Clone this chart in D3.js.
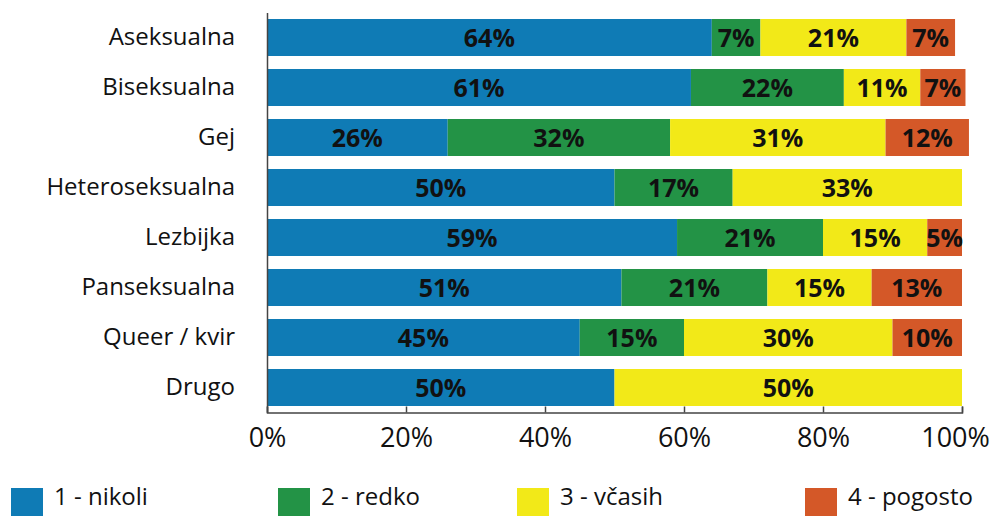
<!DOCTYPE html>
<html>
<head>
<meta charset="utf-8">
<script src="https://cdn.jsdelivr.net/npm/d3@7"></script>
<style>
  html, body { margin: 0; padding: 0; background: #fff; }
  svg { display: block; font-family: "Open Sans", sans-serif; }
</style>
</head>
<body>
<svg id="chart" width="992" height="516"></svg>
<script>
// categories and series (percent)
const categories = ["Aseksualna", "Biseksualna", "Gej", "Heteroseksualna", "Lezbijka", "Panseksualna", "Queer / kvir", "Drugo"];
const nikoli  = [64, 61, 26, 50, 59, 51, 45, 50];
const redko   = [7, 22, 32, 17, 21, 21, 15, 0];
const vcasih  = [21, 11, 31, 33, 15, 15, 30, 50];
const pogosto = [7, 6.5, 12, 0, 5, 13, 10, 0];

const seriesNames = ["1 - nikoli", "2 - redko", "3 - včasih", "4 - pogosto"];
const seriesColors = ["#0f7bb5", "#239346", "#f2e918", "#d45828"];
const xTicks = [0, 20, 40, 60, 80, 100];

// legend layout
const legendX = [11, 278, 517, 805];

const svg = d3.select("#chart");

const x = d3.scaleLinear().domain([0, 100]).range([267, 962]);
const y = d3.scaleBand().domain(categories).range([12.5, 412.5]).paddingInner(0.26).paddingOuter(0.13);
const color = d3.scaleOrdinal().domain(seriesNames).range(seriesColors);

// build table for stack
const keys = seriesNames;
const table = categories.map((c, i) => ({
  cat: c,
  [keys[0]]: nikoli[i],
  [keys[1]]: redko[i],
  [keys[2]]: vcasih[i],
  [keys[3]]: pogosto[i]
}));
const stacked = d3.stack().keys(keys)(table);

// bars
const layers = svg.append("g")
  .selectAll("g")
  .data(stacked)
  .join("g")
  .attr("fill", d => color(d.key));

layers.selectAll("rect")
  .data(d => d)
  .join("rect")
  .attr("x", d => x(d[0]))
  .attr("y", d => y(d.data.cat))
  .attr("width", d => x(d[1]) - x(d[0]))
  .attr("height", y.bandwidth());

// bar labels
layers.selectAll("text")
  .data(d => d.filter(s => s[1] - s[0] > 0))
  .join("text")
  .attr("x", d => (x(d[0]) + x(d[1])) / 2)
  .attr("y", d => y(d.data.cat) + y.bandwidth() / 2)
  .attr("dy", "0.36em")
  .attr("text-anchor", "middle")
  .attr("fill", "#111")
  .attr("font-size", "25px")
  .attr("font-weight", "700")
  .text(d => Math.round(d[1] - d[0]) + "%");

// bottom axis
const xAxis = svg.append("g")
  .attr("transform", "translate(0,412.5)")
  .call(d3.axisBottom(x).tickValues(xTicks).tickFormat(d => d + "%").tickSizeInner(-6).tickSizeOuter(-6).tickPadding(15));
xAxis.select(".domain").attr("stroke", "#444").attr("stroke-width", 1.5);
xAxis.selectAll(".tick line").attr("stroke", "#444").attr("stroke-width", 1.5);
xAxis.selectAll(".tick text")
  .attr("fill", "#111")
  .attr("font-size", "27px")
  .attr("font-family", "Open Sans, sans-serif");
// keep the last label inside the picture
xAxis.selectAll(".tick text").filter(d => d === 100).attr("dx", "-7");

// left axis
const yAxis = svg.append("g")
  .attr("transform", "translate(267,0)")
  .call(d3.axisLeft(y).tickSize(0).tickPadding(32));
yAxis.select(".domain").attr("stroke", "#444").attr("stroke-width", 1.5);
yAxis.selectAll(".tick text")
  .attr("fill", "#111")
  .attr("font-size", "24px")
  .attr("font-family", "Open Sans, sans-serif");

// legend
const legend = svg.append("g")
  .selectAll("g")
  .data(seriesNames)
  .join("g")
  .attr("transform", (d, i) => `translate(${legendX[i]},488)`);

legend.append("rect")
  .attr("width", 32)
  .attr("height", 32)
  .attr("fill", d => color(d));

legend.append("text")
  .attr("x", 43)
  .attr("y", 17)
  .attr("fill", "#111")
  .attr("font-size", "24px")
  .text(d => d);
</script>
</body>
</html>
